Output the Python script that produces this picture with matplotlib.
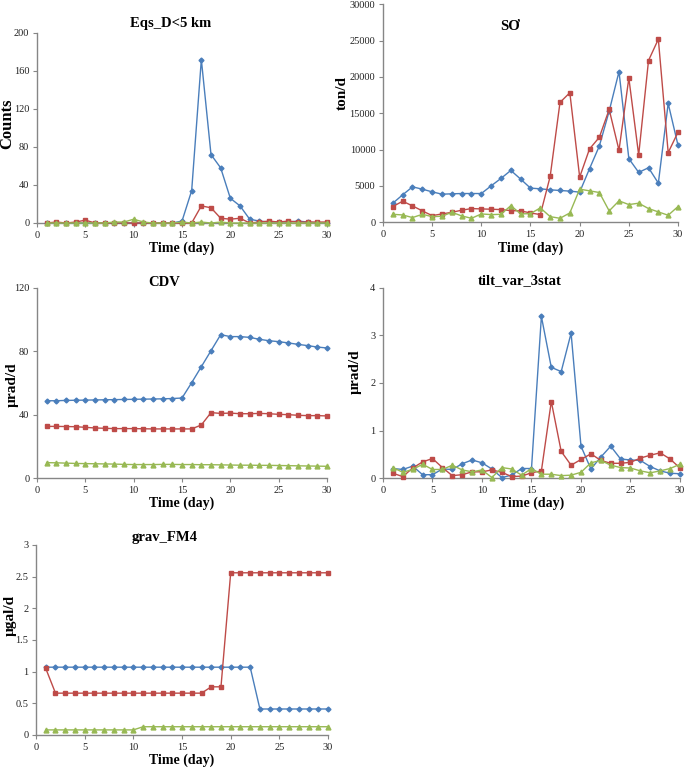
import matplotlib
matplotlib.use('Agg')
import matplotlib.pyplot as plt

plt.rcParams['font.family'] = ['Liberation Serif', 'DejaVu Serif']

days = list(range(1, 31))

# Eqs_D<5 km
eqs_blue = [0, 0, 0, 0, 0, 0, 0, 0, 0, 0, 0, 0, 0, 0, 2, 34, 172, 72, 58, 26,
            18, 4, 2, 1, 1, 1, 2, 1, 0, 0]
eqs_red = [0, 1, 0, 1, 3, 0, 0, 0, 0, 0, 0, 0, 0, 0, 0, 0, 18, 16, 5, 4,
           5, 0, 1, 2, 1, 2, 1, 1, 1, 1]
eqs_green = [0, 0, 0, 0, 0, 0, 0, 1, 1, 4, 1, 0, 0, 0, 1, 0, 1, 0, 1, 0,
             0, 0, 0, 0, 0, 0, 0, 0, 0, 0]

# SO2 flux
so2_blue = [2630, 3780, 4880, 4560, 4190, 3870, 3920, 3960, 3960, 3960,
            5020, 6040, 7140, 5940, 4700, 4610, 4470, 4380, 4290, 4150,
            7370, 10500, 15300, 20740, 8760, 6870, 7510, 5390, 16360, 10600]
so2_red = [2170, 2900, 2260, 1570, 920, 1150, 1380, 1660, 1890, 1840,
           1800, 1750, 1610, 1570, 1290, 1060, 6310, 16500, 17830, 6220,
           10090, 11700, 15530, 9910, 19860, 9260, 22260, 25200, 9590, 12400]
so2_green = [1100, 1010, 650, 1100, 780, 830, 1380, 880, 550, 1150,
             1060, 1100, 2300, 1150, 1200, 1980, 780, 550, 1290, 4560,
             4330, 4100, 1570, 2950, 2440, 2630, 1890, 1430, 970, 2170]

# CDV
cdv_blue = [48.8, 48.8, 49.0, 49.1, 49.2, 49.3, 49.4, 49.5, 49.6, 49.7,
            49.8, 49.9, 50.0, 50.2, 50.5, 60.2, 70.3, 80.4, 90.5, 89.3,
            89.3, 88.8, 87.6, 86.7, 86.1, 85.3, 84.4, 83.6, 82.7, 82.1]
cdv_red = [32.6, 32.6, 32.5, 32.4, 32.0, 31.6, 31.4, 31.2, 31.2, 31.2,
           31.1, 31.0, 31.0, 31.0, 31.0, 31.0, 33.5, 41.3, 40.8, 41.0,
           40.6, 40.6, 40.8, 40.6, 40.2, 40.0, 39.6, 39.4, 39.4, 39.2]
cdv_green = [9.7, 9.6, 9.4, 9.2, 9.1, 9.0, 8.9, 8.8, 8.6, 8.5,
             8.5, 8.5, 8.6, 8.6, 8.5, 8.5, 8.4, 8.4, 8.3, 8.2,
             8.1, 8.1, 8.0, 8.0, 7.9, 7.8, 7.7, 7.6, 7.5, 7.4]

# tilt_var_3stat
tilt_blue = [0.20, 0.18, 0.25, 0.07, 0.07, 0.19, 0.18, 0.30, 0.38, 0.32,
             0.19, 0.01, 0.06, 0.20, 0.20, 3.40, 2.33, 2.24, 3.05, 0.67,
             0.19, 0.44, 0.67, 0.40, 0.38, 0.37, 0.24, 0.15, 0.10, 0.09]
tilt_red = [0.10, 0.03, 0.21, 0.34, 0.41, 0.22, 0.05, 0.07, 0.13, 0.13,
            0.17, 0.12, 0.03, 0.04, 0.11, 0.15, 1.61, 0.56, 0.27, 0.39,
            0.51, 0.37, 0.31, 0.31, 0.33, 0.42, 0.48, 0.53, 0.40, 0.21]
tilt_green = [0.22, 0.12, 0.18, 0.29, 0.18, 0.18, 0.27, 0.17, 0.13, 0.17,
              0.01, 0.22, 0.19, 0.06, 0.20, 0.08, 0.08, 0.05, 0.06, 0.12,
              0.32, 0.37, 0.27, 0.22, 0.21, 0.15, 0.11, 0.15, 0.20, 0.29]

# grav_FM4
grav_blue = [1.07] * 22 + [0.41] * 8
grav_red = [1.05] + [0.66] * 16 + [0.76, 0.76] + [2.56] * 11
grav_green = [0.08] * 10 + [0.13] * 20

BLUE = '#4a7ebb'
RED = '#be4b48'
GREEN = '#98b954'
AXC = '#868686'

panels = [
    # rect, title, title pos (axes coords), ylabel, ylabel pos (fig px), ylabel size, ylim, yticks, yticklabels, series
    ([0.054, 0.7104, 0.4234, 0.2468], 'Eqs_D<5 km', (0.46, 1.05), 'Counts', (7, 124), 12,
     (0, 200), [0, 40, 80, 120, 160, 200], None, (eqs_blue, eqs_red, eqs_green)),
    ([0.5591, 0.7113, 0.4307, 0.2831], 'SƠ', (0.43, 0.9), 'ton/d', (342, 93), 11,
     (0, 30000), [0, 5000, 10000, 15000, 20000, 25000, 30000], None, (so2_blue, so2_red, so2_green)),
    ([0.054, 0.3792, 0.4234, 0.2468], 'CDV', (0.44, 1.03), 'µrad/d', (12, 385), 11,
     (0, 120), [0, 40, 80, 120], None, (cdv_blue, cdv_red, cdv_green)),
    ([0.5591, 0.3792, 0.4336, 0.2468], 'tilt_var_3stat', (0.46, 1.04), 'µrad/d', (355, 372), 11,
     (0, 4), [0, 1, 2, 3, 4], None, (tilt_blue, tilt_red, tilt_green)),
    ([0.0526, 0.0455, 0.4263, 0.2468], 'grav_FM4', (0.44, 1.04), 'µgal/d', (10, 615), 11,
     (0, 3), [0, 0.5, 1, 1.5, 2, 2.5, 3], ['0', '0.5', '1', '1.5', '2', '2.5', '3'],
     (grav_blue, grav_red, grav_green)),
]

fig = plt.figure(figsize=(6.85, 7.7), dpi=100)

for rect, title, tpos, ylab, ylpos, yls, ylim, yticks, ytl, series in panels:
    ax = fig.add_axes(rect)
    b, r, g = series
    ax.plot(days, b, color=BLUE, lw=1, marker='D', ms=2.5, clip_on=False, zorder=3)
    ax.plot(days, r, color=RED, lw=1, marker='s', ms=3.5, clip_on=False, zorder=3)
    ax.plot(days, g, color=GREEN, lw=1, marker='^', ms=3.5, clip_on=False, zorder=3)
    ax.set_xlim(0, 30)
    ax.set_ylim(*ylim)
    ax.set_xticks(range(0, 31, 5))
    ax.set_yticks(yticks)
    if ytl is not None:
        ax.set_yticklabels(ytl)
    for s in ['top', 'right']:
        ax.spines[s].set_visible(False)
    for s in ['left', 'bottom']:
        ax.spines[s].set_color(AXC)
        ax.spines[s].set_linewidth(1)
    ax.tick_params(axis='both', colors=AXC, labelcolor='#222222', labelsize=7.5,
                   length=3, width=0.8, direction='out', pad=2.5)
    ax.set_xlabel('Time (day)', fontsize=10, fontweight='bold', labelpad=1.5)
    ax.text(tpos[0], tpos[1], title, transform=ax.transAxes, ha='center', va='center',
            fontsize=10.5, fontweight='bold')
    fig.text(ylpos[0] / 685, 1 - ylpos[1] / 770, ylab, rotation=90, ha='center', va='center',
             fontsize=yls, fontweight='bold')

fig.savefig('out.png', dpi=100)
